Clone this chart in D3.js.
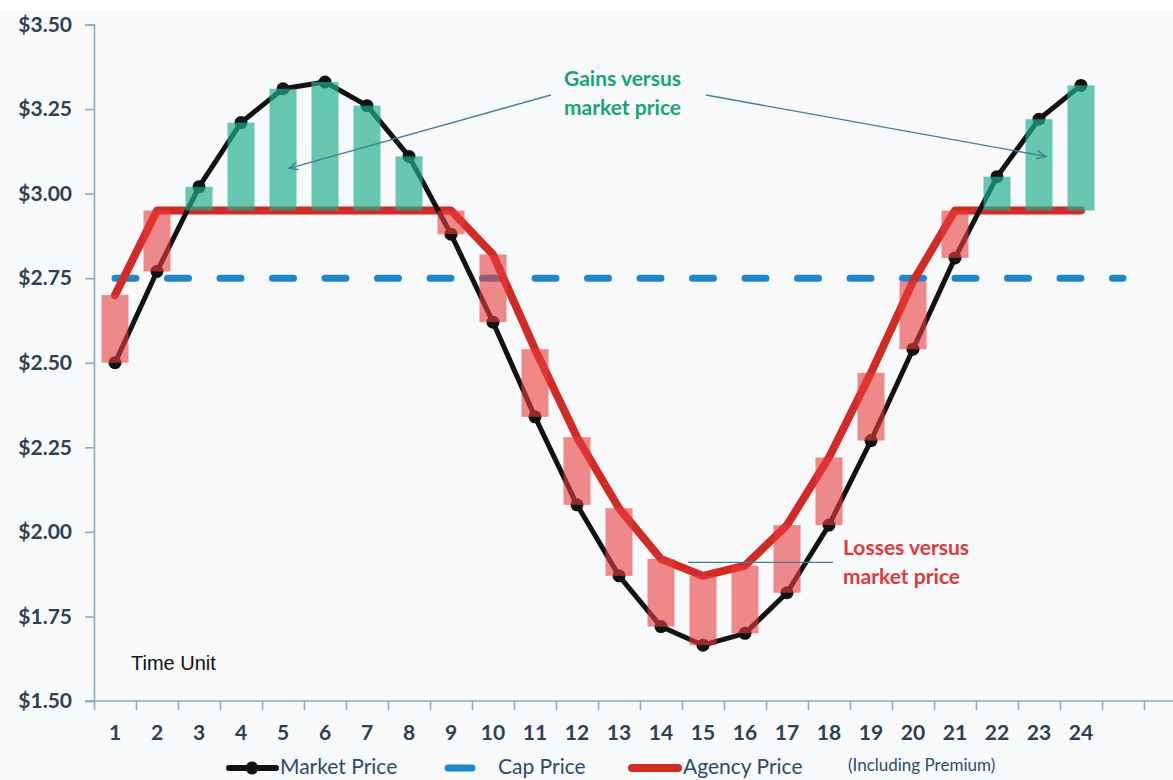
<!DOCTYPE html>
<html>
<head>
<meta charset="utf-8">
<script src="https://cdn.jsdelivr.net/npm/d3@7"></script>
<style>
  html, body { margin: 0; padding: 0; background: #ffffff; }
  svg { display: block; }
</style>
</head>
<body>
<svg id="chart" width="1173" height="780"></svg>
<script>
// Time axis slots (the last two slots are left blank)
const axisLabels = ["1","2","3","4","5","6","7","8","9","10","11","12",
                    "13","14","15","16","17","18","19","20","21","22","23","24","",""];

// Market price per time unit
const marketPrice = [2.50, 2.77, 3.02, 3.21, 3.31, 3.33, 3.26, 3.11, 2.88, 2.62, 2.34, 2.08,
                     1.87, 1.72, 1.665, 1.70, 1.82, 2.02, 2.27, 2.54, 2.81, 3.05, 3.22, 3.32];

// Agency price (including premium)
const agencyPrice = [2.70, 2.95, 2.95, 2.95, 2.95, 2.95, 2.95, 2.95, 2.95, 2.82, 2.54, 2.28,
                     2.07, 1.92, 1.87, 1.90, 2.02, 2.22, 2.47, 2.74, 2.95, 2.95, 2.95, 2.95];

// Cap price (runs one slot past the last labelled unit)
const capPrice = [2.75, 2.75, 2.75, 2.75, 2.75, 2.75, 2.75, 2.75, 2.75, 2.75, 2.75, 2.75, 2.75,
                  2.75, 2.75, 2.75, 2.75, 2.75, 2.75, 2.75, 2.75, 2.75, 2.75, 2.75, 2.75];

// Price axis ticks
const priceTicks = [1.50, 1.75, 2.00, 2.25, 2.50, 2.75, 3.00, 3.25, 3.50];

// Legend entries
const legendNames = ["Market Price", "Cap Price", "Agency Price"];
const legendNote = "(Including Premium)";

// Callout texts
const gainsText = ["Gains versus", "market price"];
const lossesText = ["Losses versus", "market price"];
const axisTitle = "Time Unit";

// ---------------------------------------------------------------
const W = 1173, H = 780;
const svg = d3.select("#chart");

const colors = {
  market: "#121212",
  cap: "#1e87c9",
  agency: "#d22a24",
  gain: "#1fb08a",
  loss: "#ea3c3c",
  axis: "#8aabc4",
  tick: "#2f4052",
  legend: "#2d4b6c",
  callout: "#3f7f96",
  gainText: "#15a676",
  lossText: "#e0393b"
};

const FONT = "Lato, 'Open Sans', sans-serif";

// background
svg.append("rect").attr("width", W).attr("height", H).attr("fill", "#ffffff");
svg.append("rect").attr("y", 10).attr("width", W).attr("height", H - 10).attr("fill", "#f8f9fa");

const left = 94, band = 42;
const x = d3.scaleBand()
  .domain(d3.range(axisLabels.length))
  .range([left, left + band * axisLabels.length])
  .paddingInner(0).paddingOuter(0);
const cx = i => x(i) + x.bandwidth() / 2;

const y = d3.scaleLinear().domain([1.5, 3.5]).range([701, 24.5]);

// ---- axes ----
const yAxis = d3.axisLeft(y)
  .tickValues(priceTicks)
  .tickFormat(d3.format("$.2f"))
  .tickSize(9)
  .tickPadding(13);

const gy = svg.append("g").attr("transform", `translate(${left},0)`).call(yAxis);
gy.select(".domain").attr("stroke", colors.axis).attr("stroke-width", 1.6);
gy.selectAll(".tick line").attr("stroke", colors.axis).attr("stroke-width", 1.6);
gy.selectAll(".tick text")
  .attr("fill", colors.tick)
  .style("font-family", FONT)
  .style("font-weight", "bold")
  .style("font-size", "21px");

// boundary ticks along the time axis
const xEdge = d3.scaleLinear().domain([0, axisLabels.length]).range([left, left + band * axisLabels.length]);
const gxTicks = svg.append("g").attr("transform", `translate(0,${y(1.5)})`)
  .call(d3.axisBottom(xEdge).tickValues(d3.range(axisLabels.length + 1)).tickFormat("").tickSize(9));
gxTicks.select(".domain").remove();
gxTicks.selectAll(".tick line").attr("stroke", colors.axis).attr("stroke-width", 1.6);

// time axis labels at slot centres
const gx = svg.append("g").attr("transform", `translate(0,${y(1.5)})`)
  .call(d3.axisBottom(x).tickFormat(i => axisLabels[i]).tickSize(0).tickPadding(24));
gx.select(".domain")
  .attr("d", `M${left - 9},0H${W + 20}`)
  .attr("stroke", colors.axis).attr("stroke-width", 1.6);
gx.selectAll(".tick text")
  .attr("fill", colors.tick)
  .style("font-family", FONT)
  .style("font-weight", "bold")
  .style("font-size", "21px");

// ---- series lines ----
const capLine = d3.line().x((d, i) => cx(i)).y(d => y(d));
svg.append("path")
  .datum(capPrice)
  .attr("d", capLine)
  .attr("fill", "none")
  .attr("stroke", colors.cap)
  .attr("stroke-width", 7)
  .attr("stroke-linecap", "round")
  .attr("stroke-dasharray", "21 31.5");

const priceLine = d3.line().x((d, i) => cx(i)).y(d => y(d));

svg.append("path")
  .datum(agencyPrice)
  .attr("d", priceLine)
  .attr("fill", "none")
  .attr("stroke", colors.agency)
  .attr("stroke-width", 8)
  .attr("stroke-linejoin", "round")
  .attr("stroke-linecap", "round");

svg.append("path")
  .datum(marketPrice)
  .attr("d", priceLine)
  .attr("fill", "none")
  .attr("stroke", colors.market)
  .attr("stroke-width", 5)
  .attr("stroke-linejoin", "round");

svg.append("g").selectAll("circle")
  .data(marketPrice)
  .join("circle")
  .attr("cx", (d, i) => cx(i))
  .attr("cy", d => y(d))
  .attr("r", 6.5)
  .attr("fill", colors.market);

// ---- gain / loss bars between market and agency price ----
const barW = 27;
svg.append("g").selectAll("rect")
  .data(marketPrice.map((m, i) => ({ i, m, a: agencyPrice[i] })))
  .join("rect")
  .attr("x", d => cx(d.i) - barW / 2)
  .attr("width", barW)
  .attr("y", d => y(Math.max(d.m, d.a)))
  .attr("height", d => Math.abs(y(d.m) - y(d.a)))
  .attr("fill", d => d.m > d.a ? colors.gain : colors.loss)
  .attr("fill-opacity", d => d.m > d.a ? 0.68 : 0.6);

// ---- callouts ----
const defs = svg.append("defs");
defs.append("marker")
  .attr("id", "openArrow")
  .attr("viewBox", "-10 -6 12 12")
  .attr("markerUnits", "userSpaceOnUse")
  .attr("markerWidth", 12).attr("markerHeight", 12)
  .attr("refX", 0).attr("refY", 0)
  .attr("orient", "auto")
  .append("path")
  .attr("d", "M-9,-4L0,0L-9,4")
  .attr("fill", "none")
  .attr("stroke", colors.callout)
  .attr("stroke-width", 1.3);

const callouts = svg.append("g");
// gains: two arrows pointing into the green bars
callouts.append("line")
  .attr("x1", 551).attr("y1", 95)
  .attr("x2", cx(4) + 6).attr("y2", y(3.075))
  .attr("stroke", colors.callout).attr("stroke-width", 1.3)
  .attr("marker-end", "url(#openArrow)");
callouts.append("line")
  .attr("x1", 706).attr("y1", 95)
  .attr("x2", cx(22) + 7).attr("y2", y(3.11))
  .attr("stroke", colors.callout).attr("stroke-width", 1.3)
  .attr("marker-end", "url(#openArrow)");
// losses: leader line
callouts.append("line")
  .attr("x1", cx(14) - 15).attr("y1", y(1.91))
  .attr("x2", 833).attr("y2", y(1.91))
  .attr("stroke", colors.callout).attr("stroke-width", 1.3);

callouts.selectAll("text.gain")
  .data(gainsText)
  .join("text")
  .attr("class", "gain")
  .attr("x", 564)
  .attr("y", (d, i) => 86 + i * 29)
  .attr("fill", colors.gainText)
  .style("font-family", FONT)
  .style("font-weight", "bold")
  .style("font-size", "21px")
  .text(d => d);

callouts.selectAll("text.loss")
  .data(lossesText)
  .join("text")
  .attr("class", "loss")
  .attr("x", 843)
  .attr("y", (d, i) => 555 + i * 29)
  .attr("fill", colors.lossText)
  .style("font-family", FONT)
  .style("font-weight", "bold")
  .style("font-size", "21px")
  .text(d => d);

svg.append("text")
  .attr("x", 131).attr("y", 670)
  .attr("fill", "#111")
  .style("font-family", "'Liberation Sans', Arial, sans-serif")
  .style("font-size", "20px")
  .text(axisTitle);

// ---- legend ----
const lg = svg.append("g").attr("transform", "translate(0,768)");
// market price: line with marker
lg.append("line").attr("x1", 229).attr("x2", 276).attr("y1", 0).attr("y2", 0)
  .attr("stroke", colors.market).attr("stroke-width", 6).attr("stroke-linecap", "round");
lg.append("circle").attr("cx", 252).attr("cy", 0).attr("r", 6.5).attr("fill", colors.market);
// cap price: dash
lg.append("line").attr("x1", 448).attr("x2", 472).attr("y1", 0).attr("y2", 0)
  .attr("stroke", colors.cap).attr("stroke-width", 7).attr("stroke-linecap", "round");
// agency price: thick line
lg.append("line").attr("x1", 632).attr("x2", 678).attr("y1", 0).attr("y2", 0)
  .attr("stroke", colors.agency).attr("stroke-width", 8).attr("stroke-linecap", "round");

const legendX = [280, 498, 683];
lg.selectAll("text.name")
  .data(legendNames)
  .join("text")
  .attr("class", "name")
  .attr("x", (d, i) => legendX[i])
  .attr("y", 6)
  .attr("fill", colors.legend)
  .style("font-family", FONT)
  .style("font-size", "21px")
  .text(d => d);
lg.append("text")
  .attr("x", 848).attr("y", 3)
  .attr("fill", colors.legend)
  .style("font-family", FONT)
  .style("font-size", "17px")
  .text(legendNote);
</script>
</body>
</html>
